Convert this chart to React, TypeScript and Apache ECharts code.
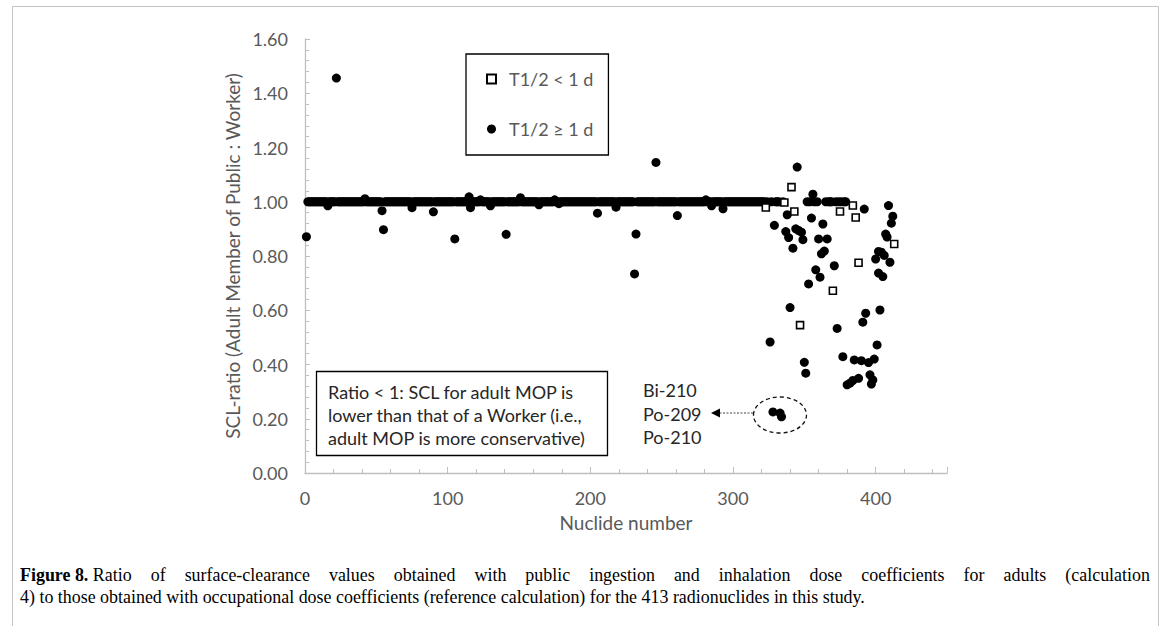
import React, { useEffect, useRef } from 'react';
import * as echarts from 'echarts';

// ---- data ----
const seriesNames = ['T1/2 < 1 d', 'T1/2 \u2265 1 d'];
const xTickLabels = ['0', '100', '200', '300', '400'];

// nuclides (T1/2 >= 1 d) whose ratio reads 1.00, as inclusive runs of nuclide numbers
const unityRuns: [number, number][] = [
  [2, 15], [17, 21], [23, 41], [43, 53], [56, 74], [76, 89], [91, 104], [106, 114],
  [117, 122], [124, 129], [131, 140], [142, 150], [152, 163], [165, 174], [176, 177],
  [179, 204], [206, 217], [219, 230], [233, 245], [247, 260], [262, 280], [282, 284],
  [286, 292], [294, 322], [324, 324], [327, 327], [330, 332], [335, 335], [352, 352],
  [354, 354], [357, 357], [359, 359], [365, 365], [367, 369], [372, 372], [374, 374],
  [376, 376], [378, 379],
];

// other nuclides with T1/2 >= 1 d: [nuclide number, SCL ratio]
const longLivedOther: [number, number][] = [
  [1, 0.871], [16, 0.985], [22, 1.456], [42, 1.011], [54, 0.967], [55, 0.897], [75, 0.978],
  [90, 0.963], [105, 0.863], [115, 1.018], [116, 0.978], [123, 1.007], [130, 0.985],
  [141, 0.88], [151, 1.015], [164, 0.989], [175, 1.007], [178, 0.993], [205, 0.958],
  [218, 0.98], [231, 0.734], [232, 0.881], [246, 1.145], [261, 0.949], [281, 1.007],
  [285, 0.985], [293, 0.974],
  [326, 0.483], [328, 0.225], [329, 0.913], [333, 0.221], [334, 0.207], [337, 0.89],
  [338, 0.952], [339, 0.868], [340, 0.61], [342, 0.829], [344, 0.9], [345, 1.128],
  [346, 0.894], [348, 0.888], [349, 0.86], [350, 0.408], [351, 0.368], [353, 0.697],
  [355, 0.94], [356, 1.028], [358, 0.749], [360, 0.863], [361, 0.722], [362, 0.808],
  [363, 0.918], [364, 0.818], [366, 0.863], [371, 0.764], [373, 0.533], [377, 0.429],
  [380, 0.325], [382, 0.331], [384, 0.341], [385, 0.417], [388, 0.349], [390, 0.414],
  [391, 0.556], [392, 0.973], [393, 0.589], [395, 0.407], [396, 0.362], [397, 0.328],
  [398, 0.343], [399, 0.42], [400, 0.789], [401, 0.472], [402, 0.817], [402, 0.737],
  [403, 0.601], [404, 0.814], [405, 0.724], [406, 0.802], [407, 0.881], [408, 0.87],
  [409, 0.986], [410, 0.777], [411, 0.921], [412, 0.947],
];

// nuclides with T1/2 < 1 d that are visible: [nuclide number, SCL ratio]
const shortLived: [number, number][] = [
  [323, 0.979], [336, 0.997], [341, 1.054], [343, 0.964], [347, 0.545], [370, 0.672],
  [375, 0.964], [384, 0.986], [386, 0.942], [388, 0.775], [413, 0.844],
];

const annotationLines = [
  'Ratio < 1: SCL for adult MOP is',
  'lower than that of a Worker (i.e.,',
  'adult MOP is more conservative)',
];
const calloutLines = ['Bi-210', 'Po-209', 'Po-210'];
const captionBold = 'Figure 8.';
const captionLine1 =
  'Ratio of surface-clearance values obtained with public ingestion and inhalation dose coefficients for adults (calculation';
const captionLine2 =
  '4) to those obtained with occupational dose coefficients (reference calculation) for the 413 radionuclides in this study.';

export default function App() {
  const ref = useRef<HTMLDivElement>(null);

  useEffect(() => {
    if (!ref.current) return;
    const chart = echarts.init(ref.current, undefined, { renderer: 'svg' });

    const longLived: [number, number][] = [];
    unityRuns.forEach(([a, b]) => {
      for (let n = a; n <= b; n++) longLived.push([n, 1.0]);
    });
    longLivedOther.forEach((p) => longLived.push(p));
    longLived.sort((p, q) => p[0] - q[0]);

    // caption measurement (condensed serif, justified first line)
    const ctx = document.createElement('canvas').getContext('2d')!;
    const capFam = '"Liberation Serif", serif';
    const capSize = 18;
    const meas = (t: string, f: string) => {
      ctx.font = f;
      return ctx.measureText(t).width;
    };
    const reg = `${capSize}px ${capFam}`;
    const bold = `bold ${capSize}px ${capFam}`;
    const nat2 = meas(captionLine2, reg);
    const cond = Math.min(1.2, Math.max(0.6, 845 / nat2));
    const boldW = meas(captionBold + ' ', bold) * cond;
    const start1 = 20 + boldW;
    const line1Len = (1150 - start1) / cond;
    const nat1 = meas(captionLine1, reg);
    const nSpaces = captionLine1.split(' ').length - 1;
    const wordSpacing = Math.max(0, (line1Len - nat1) / nSpaces);

    const gray = '#595959';
    const axisGray = '#bfbfbf';

    chart.setOption({
      animation: false,
      textStyle: { fontFamily: 'Lato' },
      grid: { left: 305, top: 39, width: 642, height: 434, containLabel: false },
      legend: {
        orient: 'vertical',
        left: 466,
        top: 54,
        padding: [16, 15, 17, 20],
        itemGap: 32,
        itemWidth: 9,
        itemHeight: 9,
        borderColor: '#000',
        borderWidth: 1.3,
        backgroundColor: '#fff',
        textStyle: { fontFamily: 'Lato', fontSize: 18, color: gray, padding: [0, 0, 0, 8] },
        data: seriesNames,
      },
      xAxis: {
        type: 'value',
        min: 0,
        max: 450,
        interval: 100,
        name: 'Nuclide number',
        nameLocation: 'middle',
        nameGap: 40,
        nameTextStyle: { fontSize: 19, color: gray, fontFamily: 'Lato' },
        axisLine: { show: true, lineStyle: { color: axisGray, width: 1.3 } },
        axisTick: { show: true, inside: true, length: 6, lineStyle: { color: axisGray } },
        minorTick: { show: true, splitNumber: 5, length: 4, lineStyle: { color: axisGray } },
        splitLine: { show: false },
        axisLabel: {
          fontSize: 18,
          color: gray,
          margin: 16,
          showMaxLabel: false,
          formatter: (v: number) => {
            const i = Math.round(v / 100);
            return v % 100 === 0 && xTickLabels[i] !== undefined ? xTickLabels[i] : '';
          },
        },
      },
      yAxis: {
        type: 'value',
        min: 0,
        max: 1.6,
        interval: 0.2,
        name: 'SCL-ratio (Adult Member of Public : Worker)',
        nameLocation: 'middle',
        nameGap: 55,
        nameTextStyle: { fontSize: 19, color: gray, fontFamily: 'Lato' },
        axisLine: { show: true, lineStyle: { color: axisGray, width: 1.3 } },
        axisTick: { show: true, inside: true, length: 5, lineStyle: { color: axisGray } },
        minorTick: { show: true, splitNumber: 5, length: 4, lineStyle: { color: axisGray } },
        splitLine: { show: false },
        axisLabel: {
          fontSize: 18,
          color: gray,
          margin: 17,
          formatter: (v: number) => v.toFixed(2),
        },
      },
      series: [
        {
          name: seriesNames[0],
          type: 'scatter',
          symbol: 'rect',
          symbolSize: 7,
          z: 4,
          itemStyle: { color: '#fff', borderColor: '#000', borderWidth: 1.6, opacity: 1 },
          data: shortLived,
        },
        {
          name: seriesNames[1],
          type: 'scatter',
          symbol: 'circle',
          symbolSize: 9,
          z: 3,
          itemStyle: { color: '#000', opacity: 1 },
          data: longLived,
        },
      ],
      graphic: {
        elements: [
          {
            type: 'rect',
            silent: true,
            z: -10,
            shape: { x: 12.5, y: 6.5, width: 1146, height: 680 },
            style: { fill: 'none', stroke: '#c4c4c4', lineWidth: 1 },
          },
          {
            type: 'rect',
            shape: { x: 316.5, y: 371.5, width: 291, height: 84 },
            style: { fill: '#fff', stroke: '#000', lineWidth: 1.3 },
          },
          {
            type: 'text',
            x: 328,
            y: 380.5,
            style: {
              text: annotationLines.join('\n'),
              fontFamily: 'Lato',
              fontSize: 18,
              lineHeight: 23,
              fill: '#262626',
              align: 'left',
              verticalAlign: 'top',
            },
          },
          {
            type: 'text',
            x: 643,
            y: 378.5,
            style: {
              text: calloutLines.join('\n'),
              fontFamily: 'Lato',
              fontSize: 18,
              lineHeight: 23.5,
              fill: '#262626',
              align: 'left',
              verticalAlign: 'top',
            },
          },
          {
            type: 'ellipse',
            shape: { cx: 780, cy: 415, rx: 26.5, ry: 18 },
            style: { fill: 'none', stroke: '#111', lineWidth: 1.3, lineDash: [4, 3] },
          },
          {
            type: 'line',
            shape: { x1: 753, y1: 413, x2: 719, y2: 413 },
            style: { stroke: '#444', lineWidth: 1.2, lineDash: [2, 1.5] },
          },
          {
            type: 'polygon',
            shape: { points: [[711, 413], [720, 408.5], [720, 417.5]] },
            style: { fill: '#000' },
          },
          {
            type: 'text',
            x: 20,
            y: 575,
            scaleX: cond,
            style: {
              text: captionBold,
              fontFamily: capFam,
              fontSize: capSize,
              fontWeight: 'bold',
              fill: '#000',
              align: 'left',
              verticalAlign: 'middle',
            },
          },
          {
            type: 'text',
            x: start1,
            y: 575,
            scaleX: cond,
            style: {
              text: captionLine1,
              fontFamily: capFam,
              fontSize: capSize,
              fill: '#000',
              align: 'left',
              verticalAlign: 'middle',
            },
          },
          {
            type: 'text',
            x: 20,
            y: 597,
            scaleX: cond,
            style: {
              text: captionLine2,
              fontFamily: capFam,
              fontSize: capSize,
              fill: '#000',
              align: 'left',
              verticalAlign: 'middle',
            },
          },
        ],
      },
    });

    // justify the first caption line by widening its word spacing
    const svg = ref.current.querySelector('svg');
    if (svg) {
      svg.querySelectorAll('text').forEach((t) => {
        if (t.textContent === captionLine1) {
          t.setAttribute('word-spacing', String(wordSpacing));
          (t as SVGTextElement).style.wordSpacing = `${wordSpacing}px`;
        }
      });
    }

    return () => chart.dispose();
  }, []);

  return (
    <div
      style={{ position: 'absolute', left: 0, top: 0, width: 1171, height: 626, background: '#fff' }}
    >
      <div ref={ref} style={{ width: 1171, height: 626 }} />
    </div>
  );
}
